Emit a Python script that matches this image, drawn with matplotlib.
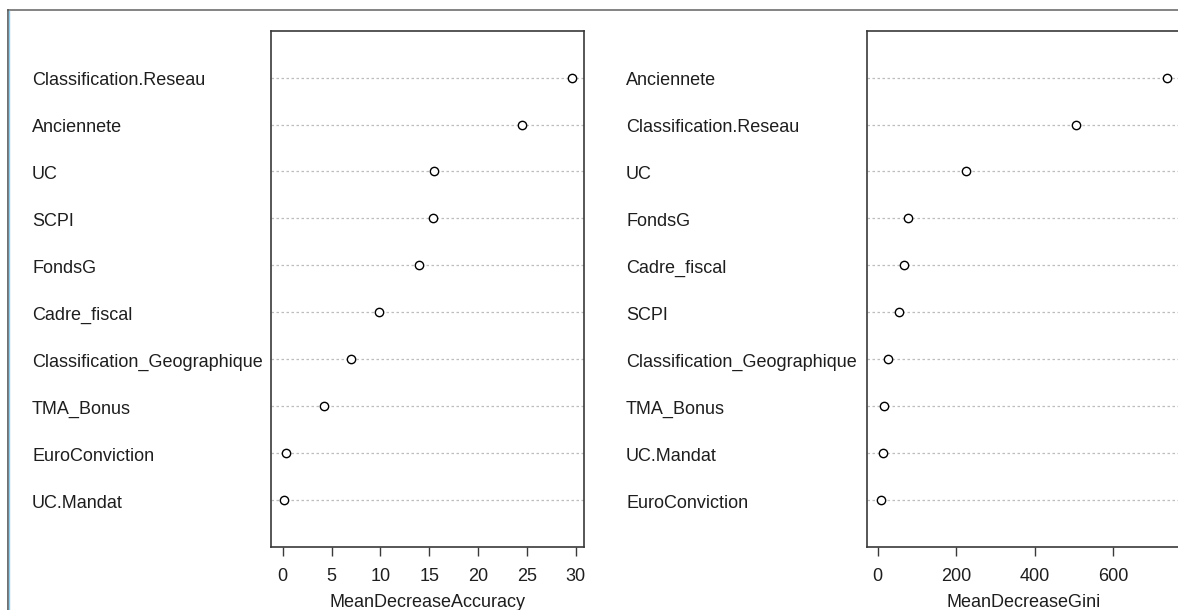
"""Variable importance dot charts (random forest), two panels."""

import matplotlib

matplotlib.use("Agg")
import matplotlib.pyplot as plt
from matplotlib.lines import Line2D
from matplotlib.transforms import blended_transform_factory

plt.rcParams["font.family"] = ["Liberation Sans", "DejaVu Sans"]

# values, listed top row first
ACC_NAMES = [
    "Classification.Reseau",
    "Anciennete",
    "UC",
    "SCPI",
    "FondsG",
    "Cadre_fiscal",
    "Classification_Geographique",
    "TMA_Bonus",
    "EuroConviction",
    "UC.Mandat",
]
ACC_VALUES = [29.6, 24.5, 15.5, 15.4, 14.0, 9.9, 7.0, 4.2, 0.35, 0.1]

GINI_NAMES = [
    "Anciennete",
    "Classification.Reseau",
    "UC",
    "FondsG",
    "Cadre_fiscal",
    "SCPI",
    "Classification_Geographique",
    "TMA_Bonus",
    "UC.Mandat",
    "EuroConviction",
]
GINI_VALUES = [738, 504, 224, 78, 66, 54, 26, 17, 14, 8]

ACC_TICKS = [0, 5, 10, 15, 20, 25, 30]
GINI_TICKS = [0, 200, 400, 600]

W, H = 1178, 610
FONT_SIZE = 13
DARK = "#3a3a3a"
TEXT = "#1e1e1e"


def px_rect(left, top, right, bottom):
    return [left / W, 1 - bottom / H, (right - left) / W, (bottom - top) / H]


def dotchart(fig, ax, names, values, ticks, xlim, xlabel, label_x_px):
    n = len(names)
    rows = list(range(n, 0, -1))
    for y in rows:
        ax.axhline(y, color="#bdbdbd", lw=0.9, ls=(0, (2.0, 2.0)), zorder=1)
    ax.plot(
        values,
        rows,
        ls="none",
        marker="o",
        ms=6,
        mfc="white",
        mec="black",
        mew=1.0,
        zorder=3,
    )
    ax.set_ylim(0, n + 1)
    ax.set_xlim(*xlim)
    ax.set_yticks([])
    ax.set_xticks(ticks)
    ax.tick_params(
        axis="x",
        direction="out",
        length=6.5,
        width=1.0,
        color=DARK,
        pad=8.5,
        labelsize=FONT_SIZE,
        labelcolor=TEXT,
    )
    for spine in ax.spines.values():
        spine.set_color(DARK)
        spine.set_linewidth(1.2)
    ax.set_xlabel(xlabel, fontsize=FONT_SIZE, color=TEXT, labelpad=7)

    # row names sit in the left margin, baseline a little below the row
    trans = blended_transform_factory(fig.transFigure, ax.transData)
    for name, y in zip(names, rows):
        ax.annotate(
            name,
            xy=(label_x_px / W, y),
            xycoords=trans,
            xytext=(0, -5.6),
            textcoords="offset points",
            ha="left",
            va="baseline",
            fontsize=FONT_SIZE,
            color=TEXT,
            annotation_clip=False,
        )


def main() -> None:
    fig = plt.figure(figsize=(W / 100, H / 100), dpi=100)

    ax_acc = fig.add_axes(px_rect(270.7, 30.7, 584.0, 546.7))
    dotchart(
        fig,
        ax_acc,
        ACC_NAMES,
        ACC_VALUES,
        ACC_TICKS,
        (-1.23, 30.84),
        "MeanDecreaseAccuracy",
        32,
    )

    ax_gini = fig.add_axes(px_rect(866.7, 30.7, 1180.0, 546.7))
    dotchart(
        fig,
        ax_gini,
        GINI_NAMES,
        GINI_VALUES,
        GINI_TICKS,
        (-28, 770),
        "MeanDecreaseGini",
        626,
    )

    # window frame around the captured plot
    fig.add_artist(
        Line2D([7.5 / W, 1], [1 - 9.8 / H, 1 - 9.8 / H], color="#6e6e6e", lw=1.2)
    )
    fig.add_artist(Line2D([7.5 / W, 7.5 / W], [0, 1 - 9.8 / H], color="#555555", lw=1.2))
    fig.add_artist(Line2D([9.4 / W, 9.4 / W], [0, 1 - 10.5 / H], color="#8ccbea", lw=1.0))

    fig.savefig("out.png", dpi=100)


if __name__ == "__main__":
    main()
